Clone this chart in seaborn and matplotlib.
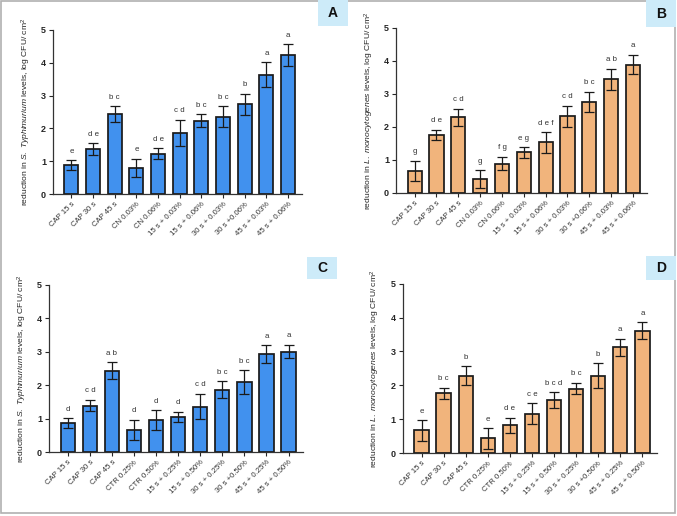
#!/usr/bin/env python3
import pandas as pd
import numpy as np
import matplotlib
matplotlib.use("Agg")
import matplotlib.pyplot as plt
from matplotlib.patches import Rectangle
import seaborn as sns

# x categories
groups_cn = ["CAP 15 s", "CAP 30 s", "CAP 45 s", "CN 0.03%", "CN 0.06%", "15 s + 0.03%",
             "15 s + 0.06%", "30 s + 0.03%", "30 s +0.06%", "45 s + 0.03%", "45 s + 0.06%"]
groups_ctr = ["CAP 15 s", "CAP 30 s", "CAP 45 s", "CTR 0.25%", "CTR 0.50%", "15 s + 0.25%",
              "15 s + 0.50%", "30 s + 0.25%", "30 s +0.50%", "45 s + 0.25%", "45 s + 0.50%"]

# panel A: S. Typhimurium, cinnamon
mean_a = [0.88, 1.37, 2.43, 0.80, 1.23, 1.86, 2.23, 2.36, 2.73, 3.63, 4.23]
err_a = [0.15, 0.17, 0.25, 0.27, 0.16, 0.41, 0.20, 0.31, 0.33, 0.38, 0.33]
letters_a = ["e", "d e", "b c", "e", "d e", "c d", "b c", "b c", "b", "a", "a"]

# panel B: L. monocytogenes, cinnamon
mean_b = [0.67, 1.76, 2.29, 0.42, 0.89, 1.23, 1.53, 2.32, 2.75, 3.44, 3.89]
err_b = [0.30, 0.16, 0.26, 0.27, 0.20, 0.16, 0.31, 0.32, 0.31, 0.32, 0.30]
letters_b = ["g", "d e", "c d", "g", "f g", "e g", "d e f", "c d", "b c", "a b", "a"]

# panel C: S. Typhimurium, citral
mean_c = [0.86, 1.39, 2.43, 0.66, 0.96, 1.06, 1.36, 1.86, 2.09, 2.93, 3.00]
err_c = [0.15, 0.17, 0.25, 0.31, 0.29, 0.15, 0.38, 0.25, 0.36, 0.26, 0.20]
letters_c = ["d", "c d", "a b", "d", "d", "d", "c d", "b c", "b c", "a", "a"]

# panel D: L. monocytogenes, citral
mean_d = [0.67, 1.76, 2.29, 0.43, 0.82, 1.16, 1.56, 1.90, 2.29, 3.12, 3.62]
err_d = [0.30, 0.17, 0.27, 0.30, 0.23, 0.31, 0.23, 0.17, 0.36, 0.26, 0.24]
letters_d = ["e", "b c", "b", "e", "d e", "c e", "b c d", "b c", "b", "a", "a"]

BLUE = "#4191EE"
ORANGE = "#F1B47C"
LABEL_S = r"reduction in $\mathit{S.\ Typhimurium}$ levels, log CFU/ cm$^2$"
LABEL_L = r"reduction in $\mathit{L.\ monocytogenes}$ levels, log CFU/ cm$^2$"

sns.set_theme(style="ticks")
plt.rcParams['font.family'] = ['Liberation Sans', 'DejaVu Sans']
plt.rcParams['mathtext.fontset'] = 'custom'
plt.rcParams['mathtext.rm'] = 'Liberation Sans'
plt.rcParams['mathtext.it'] = 'Liberation Sans:italic'


def draw_panel(fig, rect, cats, means, errs, letters, color, ylabel):
    ax = fig.add_axes(rect)
    df = pd.DataFrame({"group": cats, "value": means})
    sns.barplot(data=df, x="group", y="value", color=color, width=0.65,
                edgecolor="#1a1a1a", linewidth=1.25, saturation=1, errorbar=None, ax=ax)
    xs = np.arange(len(cats))
    ax.errorbar(xs, means, yerr=errs, fmt="none", ecolor="#1a1a1a",
                elinewidth=0.9, capsize=3.5, capthick=0.9)
    for x, m, e, lab in zip(xs, means, errs, letters):
        ax.annotate(lab, (x, m + e), xytext=(0, 4), textcoords="offset points",
                    ha="center", va="bottom", fontsize=5.7, color="#333333")
    ax.set_ylim(0, 5)
    ax.set_xlim(-0.85, 10.65)
    ax.set_yticks([0, 1, 2, 3, 4, 5])
    ax.set_xlabel(None)
    ax.set_ylabel(ylabel, fontsize=6.1, color="#222222", labelpad=6)
    ax.tick_params(axis="y", labelsize=6.5, length=3, width=0.8, pad=2)
    ax.tick_params(axis="x", labelsize=5.6, length=3, width=0.8, pad=2, labelcolor="#333333")
    for t in ax.get_yticklabels():
        t.set_fontweight("bold")
    plt.setp(ax.get_xticklabels(), rotation=45, ha="right", rotation_mode="anchor")
    sns.despine(ax=ax)
    for s in ("left", "bottom"):
        ax.spines[s].set_linewidth(0.9)
        ax.spines[s].set_color("#333333")
    return ax


fig = plt.figure(figsize=(6.77, 5.16), dpi=100)

draw_panel(fig, [0.0783, 0.624, 0.368, 0.318], groups_cn, mean_a, err_a, letters_a, BLUE, LABEL_S)
draw_panel(fig, [0.585, 0.626, 0.371, 0.320], groups_cn, mean_b, err_b, letters_b, ORANGE, LABEL_L)
draw_panel(fig, [0.0724, 0.124, 0.375, 0.324], groups_ctr, mean_c, err_c, letters_c, BLUE, LABEL_S)
draw_panel(fig, [0.595, 0.122, 0.375, 0.328], groups_ctr, mean_d, err_d, letters_d, ORANGE, LABEL_L)

# outer frame
fig.patches.append(Rectangle((0.002, 0.006), 0.995, 0.992, transform=fig.transFigure,
                             fill=False, edgecolor="#b0b0b0", linewidth=1.2))

# panel tags
W, H = 677, 516
for tag, (x0, y0, x1, y1) in {"A": (318, 0, 348, 26), "B": (646, 0, 676, 27),
                              "C": (307, 257, 337, 279), "D": (646, 256, 676, 280)}.items():
    fig.patches.append(Rectangle((x0 / W, 1 - y1 / H), (x1 - x0) / W, (y1 - y0) / H,
                                 transform=fig.transFigure, facecolor="#CDEBF9", edgecolor="none"))
    fig.text((x0 + x1) / 2 / W, 1 - (y0 + y1) / 2 / H, tag, ha="center", va="center",
             fontsize=10, fontweight="bold", color="#111111")

fig.savefig("out.png", dpi=100)
